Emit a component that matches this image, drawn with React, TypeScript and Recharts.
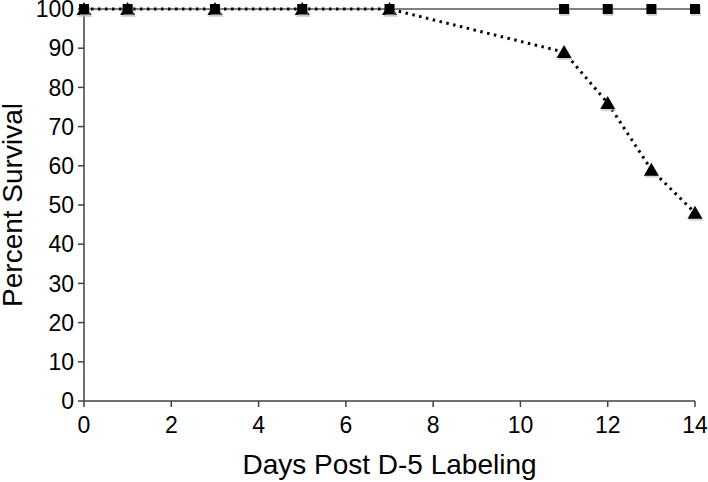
import React from 'react';
import { LineChart, Line, XAxis, YAxis, Label } from 'recharts';

const days = [0, 1, 3, 5, 7, 11, 12, 13, 14];
const controlSurvival = [100, 100, 100, 100, 100, 100, 100, 100, 100];
const labeledSurvival = [100, 100, 100, 100, 100, 89, 76, 59, 48];
const xTicks = [0, 2, 4, 6, 8, 10, 12, 14];
const yTicks = [0, 10, 20, 30, 40, 50, 60, 70, 80, 90, 100];

const data = days.map((d, i) => ({
  day: d,
  control: controlSurvival[i],
  labeled: labeledSurvival[i],
}));

const FONT = '"Liberation Sans", Arial, Helvetica, sans-serif';

const SquareDot = (props: any) => {
  const { cx, cy, index } = props;
  if (cx == null || cy == null) return null;
  return (
    <g key={`sq-${index}`}>
      <rect x={cx - 4} y={cy - 3} width={10} height={10} fill="#bbb" opacity={0.6} />
      <rect x={cx - 5} y={cy - 5} width={10} height={10} fill="#000" />
    </g>
  );
};

const TriangleDot = (props: any) => {
  const { cx, cy, index } = props;
  if (cx == null || cy == null) return null;
  const pts = (dx: number, dy: number) =>
    `${cx + dx},${cy - 7 + dy} ${cx + 7.5 + dx},${cy + 6 + dy} ${cx - 7.5 + dx},${cy + 6 + dy}`;
  return (
    <g key={`tri-${index}`}>
      <polygon points={pts(1, 2)} fill="#bbb" opacity={0.6} />
      <polygon points={pts(0, 0)} fill="#000" />
    </g>
  );
};

// axis titles placed by hand so they sit where the original figure has them
const XTitle = (props: any) => {
  const vb = props.viewBox || {};
  const cx = (vb.x ?? 84) + (vb.width ?? 611) / 2;
  return (
    <text x={cx} y={474} textAnchor="middle" fill="#000" fontSize={28} fontFamily={FONT}>
      Days Post D-5 Labeling
    </text>
  );
};

const YTitle = (props: any) => {
  const vb = props.viewBox || {};
  const cy = (vb.y ?? 9) + (vb.height ?? 392) / 2;
  return (
    <text
      transform={`translate(22, ${cy}) rotate(-90)`}
      x={0}
      y={0}
      textAnchor="middle"
      fill="#000"
      fontSize={28}
      fontFamily={FONT}
    >
      Percent Survival
    </text>
  );
};

export default function App() {
  return (
    <div style={{ position: 'absolute', left: 0, top: 0, background: '#fff' }}>
      <LineChart
        width={708}
        height={482}
        data={data}
        margin={{ top: 9, right: 13, bottom: 0, left: 0 }}
      >
        <XAxis
          dataKey="day"
          type="number"
          domain={[0, 14]}
          ticks={xTicks}
          height={81}
          stroke="#404040"
          strokeWidth={1.5}
          tickSize={6}
          tickMargin={10}
          tick={{ fill: '#000', fontSize: 23, fontFamily: FONT }}
        >
          <Label content={XTitle} />
        </XAxis>
        <YAxis
          type="number"
          domain={[0, 100]}
          ticks={yTicks}
          width={84}
          interval={0}
          stroke="#404040"
          strokeWidth={1.5}
          tickSize={6}
          tickMargin={4}
          tick={{ fill: '#000', fontSize: 23, fontFamily: FONT }}
        >
          <Label content={YTitle} />
        </YAxis>
        <Line
          dataKey="labeled"
          type="linear"
          stroke="#000"
          strokeWidth={3}
          strokeDasharray="2.5 4.5"
          dot={TriangleDot}
          activeDot={false}
          isAnimationActive={false}
        />
        <Line
          dataKey="control"
          type="linear"
          stroke="#000"
          strokeWidth={1.2}
          dot={SquareDot}
          activeDot={false}
          isAnimationActive={false}
        />
      </LineChart>
    </div>
  );
}
